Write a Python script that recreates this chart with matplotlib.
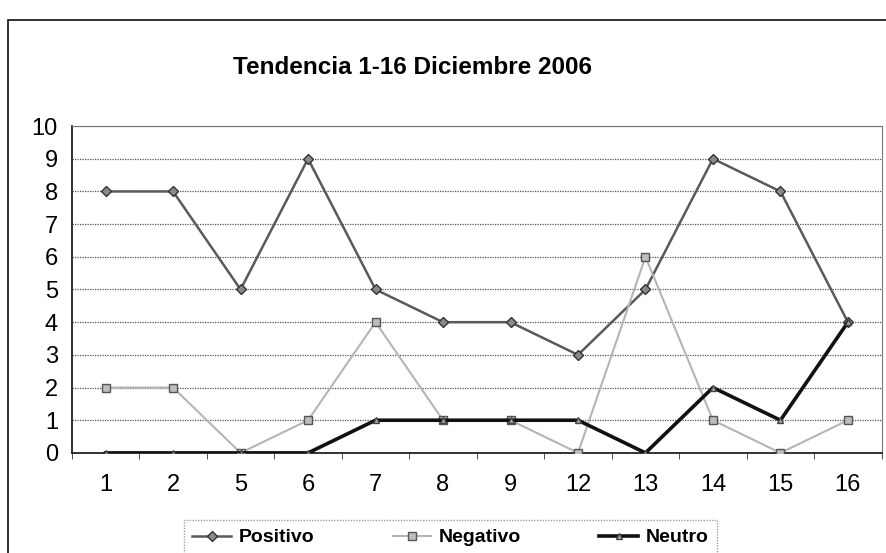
import matplotlib.pyplot as plt
from matplotlib.patches import Rectangle

plt.rcParams['font.family'] = ['Liberation Sans', 'DejaVu Sans']

# data
dias = ['1', '2', '5', '6', '7', '8', '9', '12', '13', '14', '15', '16']
positivo = [8, 8, 5, 9, 5, 4, 4, 3, 5, 9, 8, 4]
negativo = [2, 2, 0, 1, 4, 1, 1, 0, 6, 1, 0, 1]
neutro = [0, 0, 0, 0, 1, 1, 1, 1, 0, 2, 1, 4]

fig = plt.figure(figsize=(8.87, 5.53), dpi=100)
ax = fig.add_axes([0.081, 0.181, 0.913, 0.591])

# outer chart frame
fig.patches.append(Rectangle((0.009, -0.05), 1.2, 1.014, transform=fig.transFigure,
                             fill=False, edgecolor='#222222', linewidth=1.3))

x = list(range(len(dias)))
ax.plot(x, positivo, color='#5a5a5a', linewidth=1.8, marker='D', markersize=5,
        markerfacecolor='#8a8a8a', markeredgecolor='#333333', label='Positivo', zorder=3)
ax.plot(x, negativo, color='#b5b5b5', linewidth=1.5, marker='s', markersize=6,
        markerfacecolor='#bdbdbd', markeredgecolor='#555555', label='Negativo', zorder=3)
ax.plot(x, neutro, color='#111111', linewidth=2.6, marker='^', markersize=5,
        markerfacecolor='#aaaaaa', markeredgecolor='#444444', label='Neutro', zorder=4)

ax.set_xlim(-0.5, len(dias) - 0.5)
ax.set_ylim(0, 10)
ax.set_yticks(range(0, 11))
ax.set_xticks(x)
ax.set_xticklabels(dias)
ax.set_xticks([i + 0.5 for i in range(-1, len(dias))], minor=True)
ax.tick_params(axis='x', which='major', length=0, pad=15, labelsize=17)
ax.tick_params(axis='x', which='minor', length=4, direction='out', color='#333333')
ax.tick_params(axis='y', length=0, pad=10, labelsize=17)

ax.grid(axis='y', color='#555555', linestyle=(0, (1, 1)), linewidth=0.9)
ax.set_axisbelow(True)
for s in ['top', 'right']:
    ax.spines[s].set_color('#777777')
    ax.spines[s].set_linestyle((0, (1, 1)))
ax.spines['left'].set_color('#222222')
ax.spines['bottom'].set_color('#222222')
ax.spines['left'].set_linewidth(1.3)
ax.spines['bottom'].set_linewidth(1.3)

fig.text(0.465, 0.878, 'Tendencia 1-16 Diciembre 2006', ha='center', va='center',
         fontsize=17.5, fontweight='bold')

leg = fig.legend(loc='center', bbox_to_anchor=(0.508, 0.028), ncol=3,
                 prop={'weight': 'bold', 'size': 14}, frameon=True, fancybox=False,
                 columnspacing=4.0, handlelength=2.0, handletextpad=0.4, borderpad=0.45)
leg.get_frame().set_edgecolor('#888888')
leg.get_frame().set_linestyle((0, (1, 1)))
leg.get_frame().set_linewidth(1.0)

fig.savefig('out.png', dpi=100)
